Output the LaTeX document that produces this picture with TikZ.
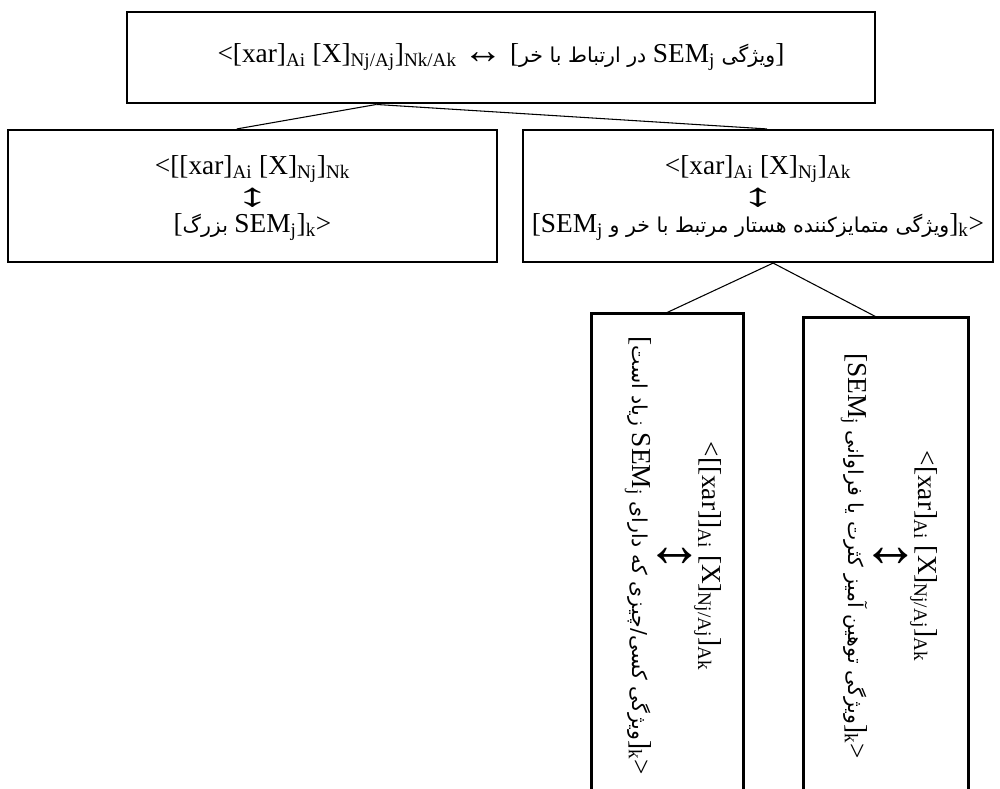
\documentclass[tikz,border=0pt]{standalone}
\usepackage{fontspec}
\setmainfont{Liberation Serif}
\newfontfamily\farsi[Script=Arabic,Scale=0.75]{DejaVu Sans}
\TeXXeTstate=1
\usetikzlibrary{calc}
\newcommand{\fa}[1]{{\farsi\beginR #1\endR}}
\newcommand{\lt}[1]{\beginL{\rmfamily #1}\endL{}}
\newcommand{\sub}[1]{\textsubscript{#1}}
\newcommand{\toparrow}{\raisebox{-1pt}{\scalebox{1.45}[1.4]{↔}}}
\newcommand{\midarrow}{\smash{\raisebox{-2.5pt}{\scalebox{2.5}[1.2]{↕}}}}
\newcommand{\rotarrow}{\smash{\raisebox{-6pt}{\scalebox{2.4}[2.1]{↕}}}}
\tikzset{
  box/.style={draw,line width=1.6pt,inner sep=0pt},
  openbox/.style={inner sep=0pt},
  boxline/.style={line width=2pt},
  link/.style={line width=0.8pt},
  txt/.style={align=center,inner sep=0pt,font=\fontsize{20.5}{21.5}\selectfont},
  rtxt/.style={align=center,inner sep=0pt,rotate=-90,font=\fontsize{20.5}{26}\selectfont}
}

\begin{document}
\begin{tikzpicture}[x=0.75pt,y=-0.75pt]
\useasboundingbox (0,0) rectangle (1000,789);
% boxes
\node[box,line width=2.2pt,minimum width=561pt,minimum height=68.25pt] (top) at (501,57.5) {};
\node[box,minimum width=366.75pt,minimum height=99pt] (lbox) at (252.5,196) {};
\node[box,minimum width=352.5pt,minimum height=99pt] (rbox) at (758,196) {};
\node[openbox,minimum width=113.25pt,minimum height=364.5pt] (blbox) at (667.5,557) {};
\node[openbox,minimum width=123pt,minimum height=361.5pt] (brbox) at (886,559) {};
\draw[boxline] (blbox.south west) |- (blbox.north east) -- (blbox.south east);
\draw[boxline] (brbox.south west) |- (brbox.north east) -- (brbox.south east);
% texts
\node[txt] (toptxt) at (501,57)
  {<[xar]\sub{Ai} [X]\sub{Nj/Aj}]\sub{Nk/Ak} \toparrow{} [\fa{ویژگی \lt{SEM\sub{j}} در ارتباط با خر}]};
\node[txt] (ltxt) at (252.5,198)
  {<[[xar]\sub{Ai} [X]\sub{Nj}]\sub{Nk}\\ \midarrow\\{}[\fa{\lt{SEM\sub{j}} بزرگ}]\sub{k}>};
\node[txt] (rtxt) at (758,198)
  {<[xar]\sub{Ai} [X]\sub{Nj}]\sub{Ak}\\ \midarrow\\{}[\fa{ویژگی متمایزکننده هستار مرتبط با خر و \lt{SEM\sub{j}}}]\sub{k}>};
\node[rtxt] (bltxt) at (673,556)
  {<[[xar]]\sub{Ai} [X]\sub{Nj/Aj}]\sub{Ak}\\ \rotarrow\\{}[\fa{ویژگی کسی/چیزی که دارای \lt{SEM\sub{j}} زیاد است}]\sub{k}>};
\node[rtxt] (brtxt) at (889,556)
  {<[xar]\sub{Ai} [X]\sub{Nj/Aj}]\sub{Ak}\\ \rotarrow\\{}[\fa{ویژگی توهین آمیز کثرت یا فراوانی \lt{SEM\sub{j}}}]\sub{k}>};
% connectors
\coordinate (t0) at ($(top.south west)!.334!(top.south east)$);
\coordinate (r0) at ($(rbox.south west)!.532!(rbox.south east)$);
\draw[link] (t0) -- ($(lbox.north west)!.468!(lbox.north east)$);
\draw[link] (t0) -- ($(rbox.north west)!.519!(rbox.north east)$);
\draw[link] (r0) -- ($(blbox.north west)!.48!(blbox.north east)$);
\draw[link] (r0) -- ($(brbox.north west)!.45!(brbox.north east)$);
\end{tikzpicture}
\end{document}
